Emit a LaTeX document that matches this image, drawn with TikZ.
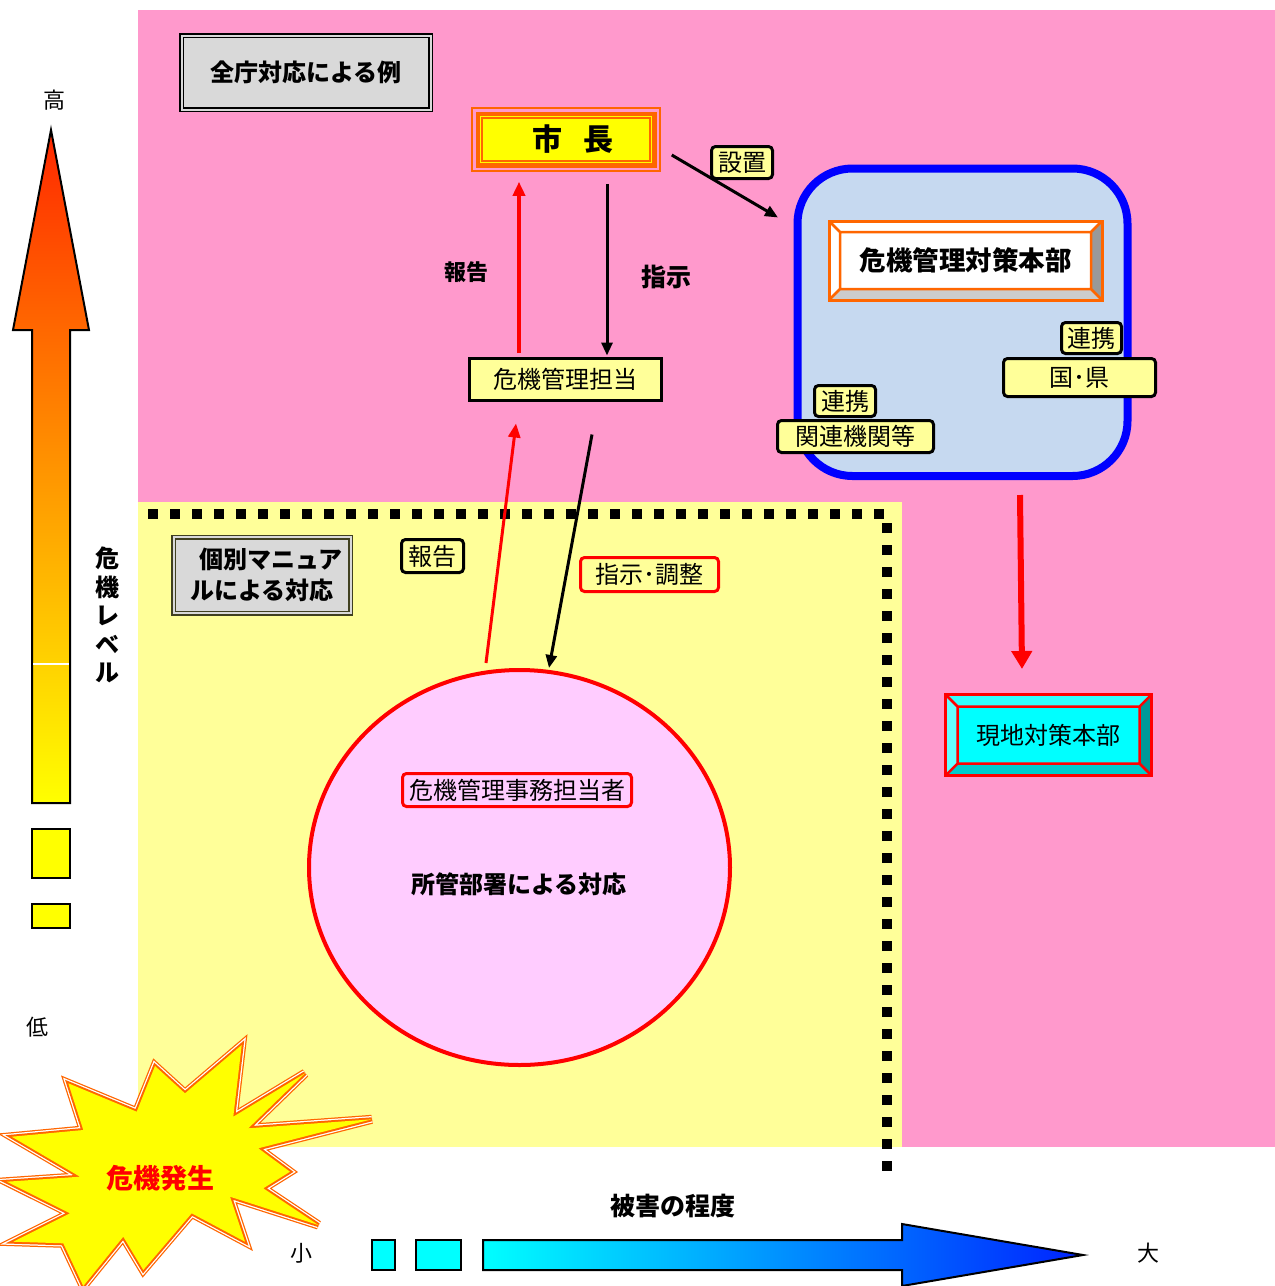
\documentclass[tikz,border=0pt]{standalone}
\usepackage{fontspec}
\setmainfont{Noto Sans CJK JP}
\usetikzlibrary{arrows.meta,calc,shapes.geometric}
\definecolor{bgpink}{HTML}{FF99CC}
\definecolor{bgyellow}{HTML}{FFFF99}
\definecolor{circpink}{HTML}{FFCCFF}
\definecolor{hqblue}{HTML}{C6D9F0}
\definecolor{boxgray}{HTML}{D9D9D9}
\definecolor{orng}{HTML}{FF6600}
\definecolor{olivedk}{HTML}{404020}
\definecolor{lvred}{RGB}{255,40,0}
\definecolor{dmgblue}{RGB}{0,34,255}
\definecolor{cyn}{RGB}{0,255,255}
\definecolor{yel}{RGB}{255,255,0}
\definecolor{pureblue}{RGB}{0,0,255}
\definecolor{purered}{RGB}{255,0,0}
\tikzset{
  jp/.style={font=\fontsize{#1}{#1}\selectfont},
  jpb/.style={font=\bfseries\fontsize{#1}{#1}\selectfont},
  lbl/.style={draw=black, line width=3pt, rounded corners=4pt, fill=bgyellow, inner sep=0pt},
  blk/.style={draw=black, line width=3pt, -{Triangle[length=13pt,width=11pt]}},
  rd/.style={draw=purered, line width=3.5pt, -{Triangle[length=14pt,width=12pt]}},
  rdbig/.style={draw=purered, line width=6pt, -{Triangle[length=18pt,width=20pt]}},
  bevelbox/.style n args={7}{draw=#7, line width=3pt, fill=#6, inner sep=0pt,
    path picture={
      \coordinate (pA) at (path picture bounding box.north west);
      \coordinate (pB) at (path picture bounding box.north east);
      \coordinate (pC) at (path picture bounding box.south east);
      \coordinate (pD) at (path picture bounding box.south west);
      \coordinate (qA) at ([xshift=#1pt,yshift=-#1pt]pA);
      \coordinate (qB) at ([xshift=-#1pt,yshift=-#1pt]pB);
      \coordinate (qC) at ([xshift=-#1pt,yshift=#1pt]pC);
      \coordinate (qD) at ([xshift=#1pt,yshift=#1pt]pD);
      \fill[#2] (pA)--(pB)--(qB)--(qA)--cycle;
      \fill[#3] (pA)--(pD)--(qD)--(qA)--cycle;
      \fill[#4] (pB)--(pC)--(qC)--(qB)--cycle;
      \fill[#5] (pD)--(pC)--(qC)--(qD)--cycle;
      \draw[#7, line width=2.5pt] (qA) rectangle (qC) (pA)--(qA) (pB)--(qB) (pC)--(qC) (pD)--(qD);
    }},
  mayorbox/.style={draw=orng, line width=1.5pt, inner sep=0pt,
    path picture={
      \coordinate (mA) at (path picture bounding box.north west);
      \coordinate (mC) at (path picture bounding box.south east);
      \fill[orng] ([xshift=3.5pt,yshift=-3.5pt]mA) rectangle ([xshift=-3.5pt,yshift=3.5pt]mC);
      \fill[yel] ([xshift=8pt,yshift=-8pt]mA) rectangle ([xshift=-8pt,yshift=8pt]mC);
      \draw[orng, line width=1.5pt] ([xshift=10pt,yshift=-10pt]mA) rectangle ([xshift=-10pt,yshift=10pt]mC);
    }}
}
\begin{document}
\begin{tikzpicture}[x=1pt,y=-1pt]
\useasboundingbox (0,0) rectangle (1275,1286);
\fill[white] (0,0) rectangle (1275,1286);
% backgrounds
\fill[bgpink] (138,10) rectangle (1275,1147);
\fill[bgyellow] (138,502) rectangle (902,1147);
\draw[line width=10pt, dash pattern=on 10pt off 12pt] (148,514) -- (887,514) -- (887,1178);

% level arrow (left)
\shadedraw[top color=lvred, bottom color=yel, draw=black, line width=2pt, line join=miter]
  (51,130) -- (89,330) -- (70,330) -- (70,803) -- (32,803) -- (32,330) -- (13,330) -- cycle;
\draw[white, line width=1.5pt] (33,664) -- (69,664);
\filldraw[fill=yel, draw=black, line width=2pt] (32,829) rectangle (70,878);
\filldraw[fill=yel, draw=black, line width=2pt] (32,904) rectangle (70,928);
\node[jp=22] (hi) at (54,100) {高};
\node[jp=22] (lo) at (38,1027) {低};
\node[font=\bfseries\fontsize{24}{28.5}\selectfont, align=center, inner sep=0pt] (lvl) at (107,615) {危\\機\\レ\\ベ\\ル};

% damage arrow (bottom)
\filldraw[fill=cyn, draw=black, line width=2pt] (372,1240) rectangle (395,1270);
\filldraw[fill=cyn, draw=black, line width=2pt] (416,1240) rectangle (461,1270);
\shadedraw[left color=cyn, right color=dmgblue, draw=black, line width=2pt, line join=miter]
  (483,1240) -- (902,1240) -- (902,1224) -- (1083,1255) -- (902,1286) -- (902,1270) -- (483,1270) -- cycle;
\node[jpb=25] (dmg) at (673,1206) {被害の程度};
\node[jp=22] (small) at (301,1253) {小};
\node[jp=22] (big) at (1148,1253) {大};

% department circle
\node[ellipse, draw=purered, line width=4pt, fill=circpink, minimum width=421pt, minimum height=395pt, inner sep=0pt] (circ) at (519.5,867.5) {};
\node[draw=purered, line width=3pt, rounded corners=4pt, fill=circpink, minimum width=229pt, minimum height=33pt, inner sep=0pt, jp=24] (jimu) at (517,790) {危機管理事務担当者};
\node[jpb=24] (shokan) at (519,884) {所管部署による対応};

% title boxes
\node[draw=black, double=boxgray, double distance=2pt, line width=1.5pt, fill=boxgray, minimum width=249pt, minimum height=74pt, inner sep=0pt, jpb=24] (zen) at (306,72.5) {全庁対応による例};
\node[draw=olivedk, double=boxgray, double distance=2pt, line width=1.5pt, fill=boxgray, minimum width=177pt, minimum height=76pt, inner sep=0pt, align=center, font=\bfseries\fontsize{24}{31}\selectfont] (kobetsu) at (262,575) {\hspace*{18pt}個別マニュア\\ルによる対応};

% mayor and staff
\node[mayorbox, minimum width=188pt, minimum height=63pt, jpb=30] (mayor) at (566,139.5) {\hspace*{13pt}市\hspace{21pt}長};
\node[draw=black, line width=3pt, fill=bgyellow, minimum width=192pt, minimum height=42pt, inner sep=0pt, jp=24] (tanto) at (565.5,379.5) {危機管理担当};

% headquarters
\node[draw=pureblue, line width=8pt, fill=hqblue, rounded corners=55pt, minimum width=330pt, minimum height=307.5pt, inner sep=0pt] (hq) at (962.5,322.25) {};
\node[bevelbox={11}{white}{white}{black!40}{black!20}{white}{orng}, minimum width=273pt, minimum height=79pt, jpb=26.5] (honbu) at (965.5,260.5) {危機管理対策本部};
\node[bevelbox={12}{cyn!80!white}{cyn!60!white}{cyn!60!black}{cyn!80!black}{cyn}{purered}, minimum width=206pt, minimum height=81pt, jp=24] (genchi) at (1048.5,735) {現地対策本部};

% arrows
\draw[rd] ($(tanto.north)+(-46.5,-4)$) -- ($(mayor.south)+(-47,10)$);
\draw[blk] ($(mayor.south)+(41,12)$) -- ($(tanto.north)+(41.5,-1.5)$);
\draw[blk] ($(mayor.east)+(11,15.5)$) -- ($(hq.north west)+(-15.5,53)$);
\draw[rd, line width=3pt] ($(circ.north)+(-33.5,-5)$) -- ($(tanto.south)+(-49.5,21.5)$);
\draw[blk] ($(tanto.south)+(26.5,32.5)$) -- ($(circ.north)+(29.5,0)$);
\draw[rdbig] ($(hq.south)+(57.5,15)$) -- ($(genchi.north)+(-26.5,-24)$);

% labels
\node[lbl, minimum width=61pt, minimum height=32pt, jp=24] (secchi) at (742,162.5) {設置};
\node[lbl, minimum width=60pt, minimum height=31pt, jp=24] (renR) at (1091.5,338) {連携};
\node[lbl, minimum width=152pt, minimum height=38pt, jp=24] (kuni) at (1079.5,377.5) {国･県};
\node[lbl, minimum width=61pt, minimum height=31pt, jp=24] (renL) at (845,401) {連携};
\node[lbl, minimum width=156pt, minimum height=32pt, jp=24] (kanren) at (855.5,436.5) {関連機関等};
\node[lbl, minimum width=62pt, minimum height=33pt, jp=24] (hokoku2) at (432.5,556) {報告};
\node[lbl, draw=purered, minimum width=138pt, minimum height=34pt, jp=24] (shiji2) at (649.5,574.5) {指示･調整};
\node[jpb=22] (hokoku1) at (466,272) {報告};
\node[jpb=25] (shiji1) at (666,277) {指示};

% crisis burst
\path[save path=\burstp] (241.7,1045) -- (233.3,1116.7) -- (305,1073.3) -- (248.3,1128.3) -- (371.7,1119.3)
  -- (258.3,1148.3) -- (290,1171.7) -- (263.3,1188.3) -- (318.3,1225) -- (230,1196.7) -- (245,1241.7)
  -- (191.7,1213.3) -- (143.3,1270) -- (123.3,1236.7) -- (83.3,1286) -- (63.3,1243.3) -- (13.3,1241.7)
  -- (70,1213.3) -- (6.7,1181.7) -- (80,1176.7) -- (11.7,1136.7) -- (83.3,1130) -- (68.3,1083.3)
  -- (136.7,1111.7) -- (155,1066) -- (185,1093.3) -- cycle;
\draw[orng, line width=9pt, line join=miter, miter limit=6, use path=\burstp];
\draw[white, line width=6.5pt, line join=miter, miter limit=6, use path=\burstp];
\draw[orng, line width=4pt, line join=miter, miter limit=6, use path=\burstp];
\fill[yel, use path=\burstp];
\node[jpb=27, text=purered] (kiki) at (160,1178) {危機発生};
\end{tikzpicture}
\end{document}
